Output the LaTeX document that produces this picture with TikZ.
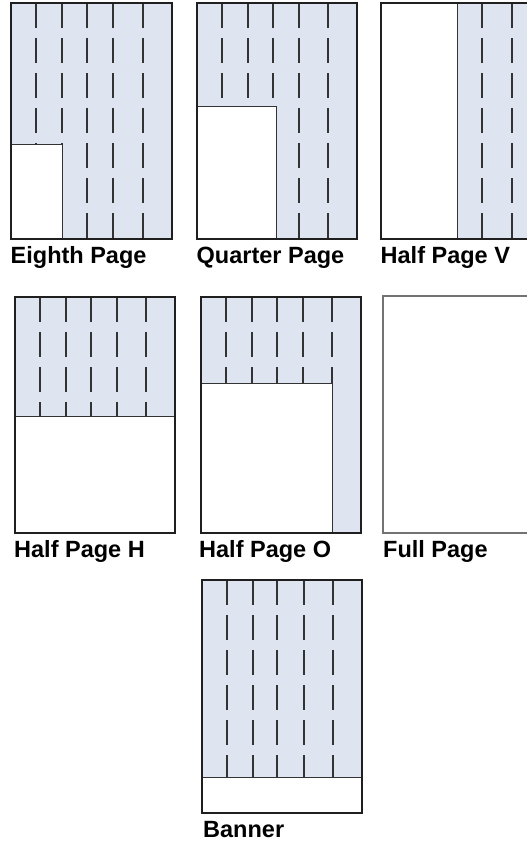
\documentclass[tikz,border=0pt]{standalone}
\usepackage{fontspec}
\setmainfont{Liberation Sans}
\definecolor{pageblue}{HTML}{DFE4F1}
\definecolor{rulegray}{HTML}{333333}

\begin{document}
\begin{tikzpicture}[
        x=1pt, y=-1pt,
        pagefill/.style={fill=pageblue},
        pageedge/.style={draw=black!88, line width=2.8pt},
        thinedge/.style={pageedge, line width=2.1pt},
        column/.style={draw=rulegray, line width=1.5pt, dash pattern=on 25pt off 10pt},
        adspace/.style={draw=black!80, fill=white, line width=1pt},
        caption/.style={anchor=base west, inner sep=0pt, font=\bfseries\fontsize{23.5}{25}\selectfont}
    ]
    \clip (0,0) rectangle (527,841);

    % Eighth Page
    \fill[pagefill] (11,3) rectangle (172,239);
    \foreach \c in {36,62,87,113,143}
        \draw[column] (\c,3) -- (\c,239);
    \draw[adspace] (11,144) rectangle (62,239);
    \draw[pageedge] (11,3) rectangle (172,239);
    \node[caption] (eighth) at (10.5,263) {Eighth Page};

    % Quarter Page
    \fill[pagefill] (197,3) rectangle (357,239);
    \foreach \c in {222,248,273,299,328}
        \draw[column] (\c,3) -- (\c,239);
    \draw[adspace] (197,106) rectangle (276,239);
    \draw[pageedge] (197,3) rectangle (357,239);
    \node[caption] (quarter) at (196.5,263) {Quarter Page};

    % Half Page V
    \fill[pagefill] (381,3) rectangle (541,239);
    \foreach \c in {406,432,457,482,512}
        \draw[column] (\c,3) -- (\c,239);
    \draw[adspace] (381,3) rectangle (457,239);
    \draw[pageedge] (381,3) rectangle (541,239);
    \node[caption] (halfv) at (380.5,263) {Half Page V};

    % Half Page H
    \fill[pagefill] (15,297) rectangle (175,533);
    \foreach \c in {40,66,91,117,146}
        \draw[column] (\c,297) -- (\c,533);
    \draw[adspace] (15,416) rectangle (175,533);
    \draw[thinedge] (15,297) rectangle (175,533);
    \node[caption] (halfh) at (14,557) {Half Page H};

    % Half Page O
    \fill[pagefill] (201,297) rectangle (361,533);
    \foreach \c in {226,252,277,303,332}
        \draw[column] (\c,297) -- (\c,533);
    \draw[adspace] (201,383) rectangle (332,533);
    \draw[thinedge] (201,297) rectangle (361,533);
    \node[caption] (halfo) at (199,557) {Half Page O};

    % Full Page
    \draw[fill=white, draw=black!55, line width=1.3pt] (383,296) rectangle (543,533);
    \node[caption] (full) at (383,557) {Full Page};

    % Banner
    \fill[pagefill] (202,580) rectangle (362,813);
    \foreach \c in {227,253,277,304,333}
        \draw[column] (\c,580) -- (\c,813);
    \draw[adspace] (202,777) rectangle (362,813);
    \draw[pageedge, line width=2.4pt] (202,580) rectangle (362,813);
    \node[caption] (banner) at (203,837) {Banner};
\end{tikzpicture}
\end{document}
